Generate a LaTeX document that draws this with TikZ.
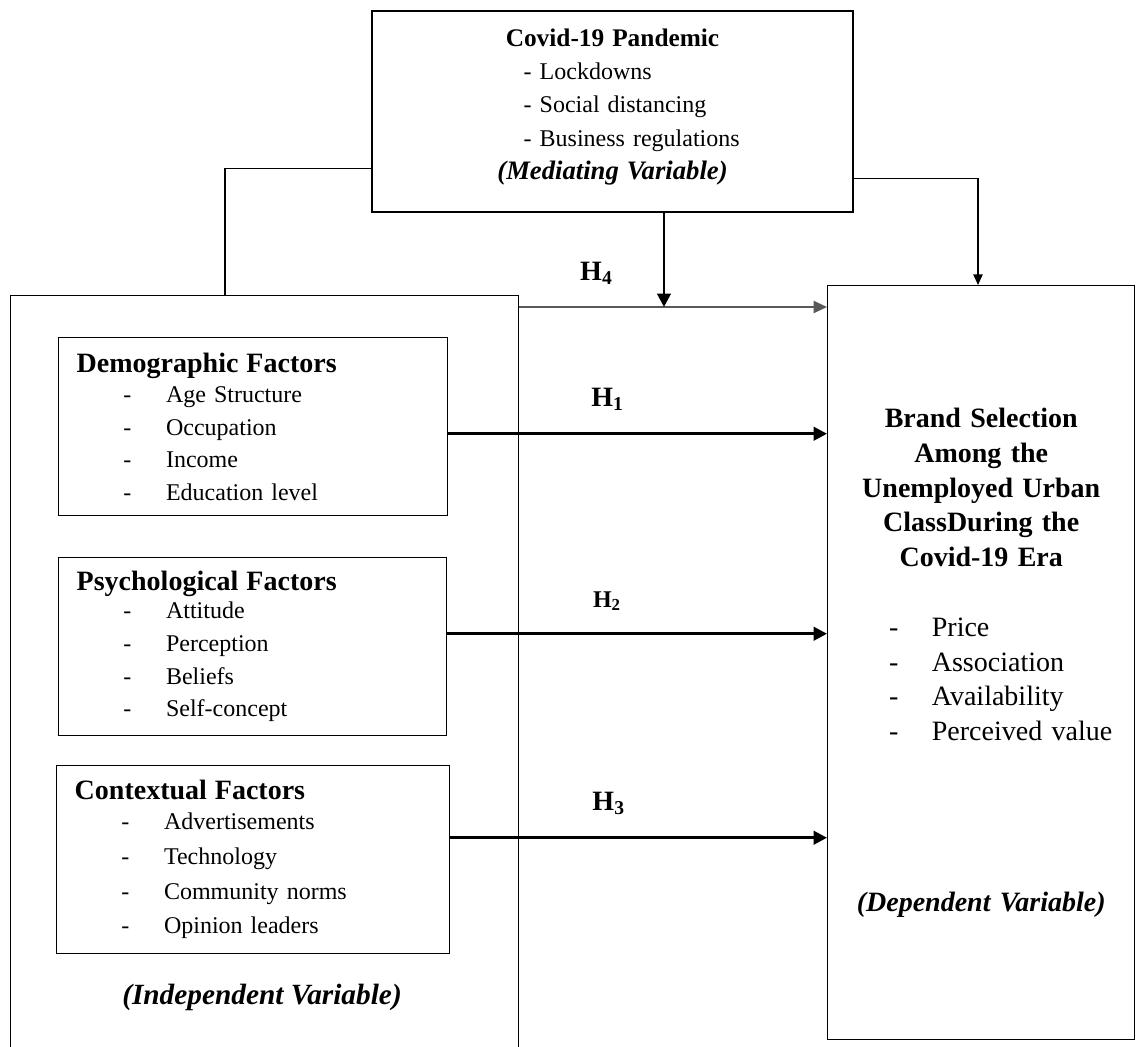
\documentclass[tikz,border=0pt]{standalone}
\usepackage{fontspec}
\setmainfont{Liberation Serif}
\usetikzlibrary{positioning,arrows.meta}
\newcommand{\hd}[1]{{\fontsize{21pt}{21pt}\selectfont\bfseries #1}}
\newcommand{\itm}[1]{\hspace*{35pt}\makebox[32pt][l]{-}#1}
\newcommand{\vrb}[1]{{\bfseries\itshape #1}}
\newcommand{\ditm}[1]{\makebox[200pt][l]{\hspace*{31pt}\makebox[32pt][l]{-}#1}}
\newcommand{\citm}[1]{\makebox[260pt][l]{\hspace*{63.4pt}- #1}}

\begin{document}
\begin{tikzpicture}[
  x=0.75pt, y=-0.75pt,
  frame/.style={draw, line width=1.1pt, inner sep=0pt},
  box/.style={draw, line width=1.1pt, inner xsep=13.5pt, inner ysep=0pt, align=left, font=\fontsize{18pt}{24.5pt}\selectfont},
  conn/.style={line width=1.1pt},
  arr/.style={-{Triangle[length=10pt,width=10pt]}, line width=2.2pt},
  arrthin/.style={-{Triangle[length=10pt,width=9pt]}, line width=1.4pt, draw=black!65},
  hlab/.style={font=\fontsize{21pt}{21pt}\selectfont\bfseries, inner sep=0pt}
]
\useasboundingbox (0,0) rectangle (1138,1046);
\clip (0,0) rectangle (1138,1046);

% mediating variable
\node[frame, minimum width=360.75pt, minimum height=150.75pt, text width=352pt, align=center, font=\fontsize{18pt}{25pt}\selectfont] (covid) at (612.5,111.5) {{\fontsize{19pt}{25pt}\selectfont\bfseries Covid-19 Pandemic}\\ \citm{Lockdowns}\\ \citm{Social distancing}\\ \citm{Business regulations}\\ {\fontsize{20pt}{25pt}\selectfont\vrb{(Mediating Variable)}}\rule[-11pt]{0pt}{11pt}};

% independent variable
\node[frame, anchor=north west, minimum width=381pt, minimum height=570pt] (indep) at (10,295) {};
\node[box, anchor=north west, text width=264.75pt, minimum height=133.5pt] (demo) at (58,337) {\hd{Demographic Factors}\\[-2pt] \itm{Age Structure}\\ \itm{Occupation}\\ \itm{Income}\\ \itm{Education level}};
\node[box, anchor=north west, text width=264pt, minimum height=133.5pt] (psych) at (58,557) {\hd{Psychological Factors}\\[-3.5pt] \itm{Attitude}\\ \itm{Perception}\\ \itm{Beliefs}\\ \itm{Self-concept}};
\node[box, anchor=north west, text width=267.75pt, minimum height=141pt, font=\fontsize{18pt}{26pt}\selectfont] (ctx) at (56,765) {\hd{Contextual Factors}\\[-3.5pt] \itm{Advertisements}\\ \itm{Technology}\\ \itm{Community norms}\\ \itm{Opinion leaders}};
\node[font=\fontsize{22pt}{22pt}\selectfont] (indeplab) at (262,997) {\vrb{(Independent Variable)}};

% dependent variable
\node[frame, anchor=north west, minimum width=230.25pt, minimum height=565.5pt, inner xsep=4pt, text width=222.25pt, align=center, font=\fontsize{21pt}{26pt}\selectfont] (dep) at (827,285) {{\bfseries Brand Selection\\ Among the\\ Unemployed Urban\\ ClassDuring the\\ Covid-19 Era}\\[26.5pt] \ditm{Price}\\ \ditm{Association}\\ \ditm{Availability}\\ \ditm{Perceived value}\\[102pt] \vrb{(Dependent Variable)}};

% connectors
\draw[conn] ([yshift=33pt]covid.south west) -| ([xshift=161.25pt]indep.north west);
\draw[conn, -{Triangle[length=8pt,width=7pt]}] ([yshift=25.5pt]covid.south east) -| ([xshift=113.25pt]dep.north west);
\coordinate (h4s) at ([yshift=-9pt]indep.north east);
\coordinate (cm) at ([xshift=38.6pt]covid.south);
\draw[arrthin] (h4s) -- (h4s -| dep.west) node[hlab, pos=0.25, above=16pt] {H\textsubscript{4}};
\draw[arr] (cm) -- (cm |- h4s);
\coordinate (h1s) at ([yshift=-5.25pt]demo.east);
\coordinate (h2s) at ([yshift=9.75pt]psych.east);
\coordinate (h3s) at ([yshift=16.5pt]ctx.east);
\draw[arr] (h1s) -- (h1s -| dep.west) node[hlab, pos=0.42, above=16pt] {H\textsubscript{1}};
\draw[arr] (h2s) -- (h2s -| dep.west) node[hlab, pos=0.42, above=16pt, font=\fontsize{18pt}{18pt}\selectfont\bfseries] {H\textsubscript{2}};
\draw[arr] (h3s) -- (h3s -| dep.west) node[hlab, pos=0.42, above=16pt] {H\textsubscript{3}};
\end{tikzpicture}
\end{document}
